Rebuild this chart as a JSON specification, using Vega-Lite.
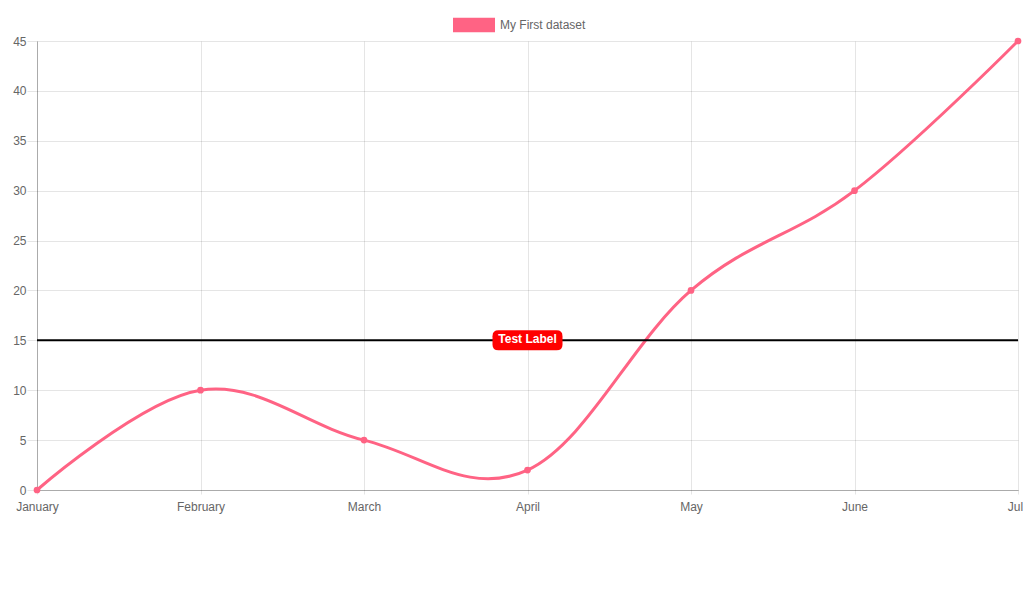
{
  "$schema": "https://vega.github.io/schema/vega-lite/v6.json",
  "width": 981,
  "height": 449,
  "autosize": {"type": "none"},
  "padding": {"left": 37, "top": 41, "right": 5, "bottom": 119},
  "background": "white",
  "config": {
    "view": {"stroke": null},
    "font": "Liberation Sans",
    "axis": {
      "labelColor": "#666666",
      "labelFontSize": 12,
      "labelFont": "Liberation Sans",
      "gridColor": "rgba(0,0,0,0.1)",
      "tickColor": "rgba(0,0,0,0.1)",
      "domainColor": "rgba(0,0,0,0.25)",
      "title": null
    }
  },
  "datasets": {
    "series": [
      {"month": "January", "value": 0, "dataset": "My First dataset"},
      {"month": "February", "value": 10, "dataset": "My First dataset"},
      {"month": "March", "value": 5, "dataset": "My First dataset"},
      {"month": "April", "value": 2, "dataset": "My First dataset"},
      {"month": "May", "value": 20, "dataset": "My First dataset"},
      {"month": "June", "value": 30, "dataset": "My First dataset"},
      {"month": "July", "value": 45, "dataset": "My First dataset"}
    ],
    "annotation": [
      {"month": "April", "value": 15, "label": "Test Label"}
    ]
  },
  "layer": [
    {
      "data": {"name": "series"},
      "mark": {"type": "line", "interpolate": "cardinal", "tension": -0.08, "strokeWidth": 3},
      "encoding": {
        "x": {
          "field": "month", "type": "ordinal",
          "scale": {"type": "point", "padding": 0, "domain": ["January", "February", "March", "April", "May", "June", "July"]},
          "axis": {"labelAngle": 0, "grid": true, "tickSize": 4, "labelPadding": 7}
        },
        "y": {
          "field": "value", "type": "quantitative",
          "scale": {"domain": [0, 45], "nice": false, "zero": true},
          "axis": {"values": [0, 5, 10, 15, 20, 25, 30, 35, 40, 45], "grid": true, "tickSize": 10, "labelPadding": 1}
        },
        "color": {
          "field": "dataset", "type": "nominal",
          "scale": {"domain": ["My First dataset"], "range": ["rgb(255,99,132)"]},
          "legend": {
            "orient": "none",
            "legendX": 416,
            "legendY": -37,
            "title": null,
            "symbolType": "M -1 -0.35 L 1 -0.35 L 1 0.35 L -1 0.35 Z",
            "symbolSize": 1764,
            "symbolStrokeWidth": 0,
            "symbolOpacity": 1,
            "labelFontSize": 12,
            "labelColor": "#666666",
            "labelFont": "Liberation Sans",
            "labelOffset": 5,
            "padding": 0
          }
        }
      }
    },
    {
      "data": {"name": "series"},
      "mark": {"type": "point", "filled": true, "size": 45, "opacity": 1},
      "encoding": {
        "x": {"field": "month", "type": "ordinal"},
        "y": {"field": "value", "type": "quantitative"},
        "color": {"field": "dataset", "type": "nominal", "legend": null}
      }
    },
    {
      "data": {"name": "annotation"},
      "mark": {"type": "rule", "color": "black", "strokeWidth": 2},
      "encoding": {"y": {"field": "value", "type": "quantitative"}}
    },
    {
      "data": {"name": "annotation"},
      "mark": {
        "type": "point", "filled": true, "opacity": 1, "color": "red", "size": 4900,
        "shape": "M -0.83 -0.2857 L 0.83 -0.2857 Q 1 -0.2857 1 -0.1157 L 1 0.1157 Q 1 0.2857 0.83 0.2857 L -0.83 0.2857 Q -1 0.2857 -1 0.1157 L -1 -0.1157 Q -1 -0.2857 -0.83 -0.2857 Z"
      },
      "encoding": {
        "x": {"field": "month", "type": "ordinal"},
        "y": {"field": "value", "type": "quantitative"}
      }
    },
    {
      "data": {"name": "annotation"},
      "mark": {"type": "text", "color": "white", "fontWeight": "bold", "fontSize": 12, "font": "Liberation Sans", "baseline": "middle", "dy": -1},
      "encoding": {
        "x": {"field": "month", "type": "ordinal"},
        "y": {"field": "value", "type": "quantitative"},
        "text": {"field": "label"}
      }
    }
  ]
}
